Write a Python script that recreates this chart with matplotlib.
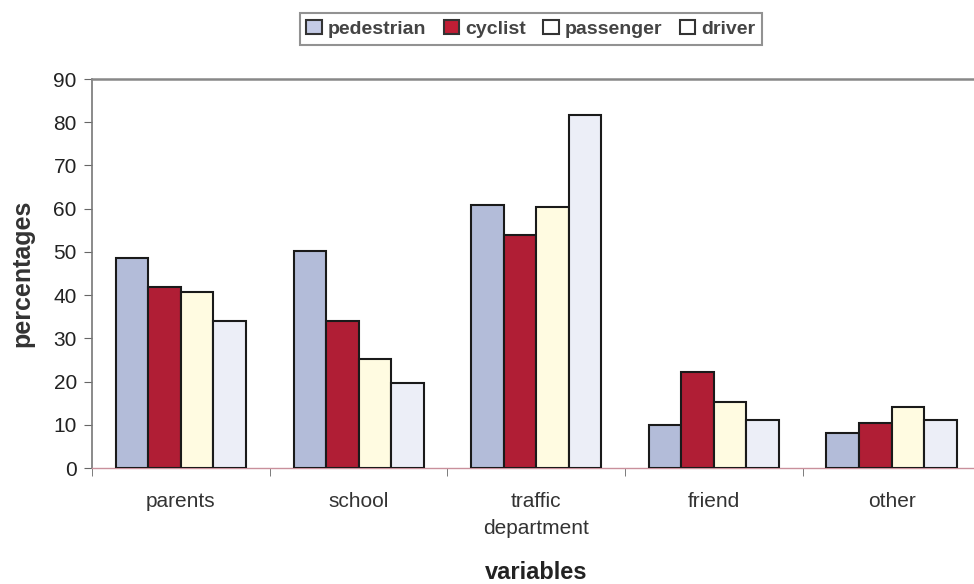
import matplotlib.pyplot as plt
import numpy as np
from matplotlib.patches import Patch

plt.rcParams['font.family'] = ['Liberation Sans', 'DejaVu Sans']

# datos
categorias = ["parents", "school", "traffic\ndepartment", "friend", "other"]
series = ["pedestrian", "cyclist", "passenger", "driver"]
pedestrian = [48.7, 50.1, 60.9, 9.9, 8.0]
cyclist = [41.9, 33.9, 53.8, 22.2, 10.5]
passenger = [40.7, 25.2, 60.5, 15.2, 14.2]
driver = [33.9, 19.7, 81.7, 11.1, 11.2]

valores = [pedestrian, cyclist, passenger, driver]
colores = ["#b3bcd9", "#b01e35", "#fffbe1", "#eceef7"]
colores_leyenda = ["#c4cbe6", "#c01e35", "#ffffff", "#ffffff"]

fig = plt.figure(figsize=(9.74, 5.84), dpi=100)
ax = fig.add_axes([0.0945, 0.1986, 0.912, 0.6661])

x = np.arange(len(categorias)) + 0.5
ancho = 0.183
for i, (vals, col) in enumerate(zip(valores, colores)):
    pos = x + (i - 1.5) * ancho
    ax.bar(pos, vals, width=ancho, color=col, edgecolor="#1a1a1a", linewidth=1.5,
           zorder=3)

ax.set_xlim(0, 5)
ax.set_ylim(0, 90)
ax.set_yticks(range(0, 91, 10))
ax.tick_params(axis="y", labelsize=15, length=6, color="#666666", pad=5,
               labelcolor="#222222")

ax.set_xticks(x)
ax.set_xticklabels(categorias, fontsize=15, color="#333333")
ax.tick_params(axis="x", length=0, pad=17)
ax.set_xticks(np.arange(0, 6), minor=True)
ax.tick_params(axis="x", which="minor", length=6, color="#666666")

for lab in ax.get_xticklabels():
    lab.set_linespacing(1.55)

ax.spines["right"].set_visible(False)
ax.spines["left"].set_color("#777777")
ax.spines["left"].set_linewidth(1.2)
ax.spines["top"].set_color("#888888")
ax.spines["top"].set_linewidth(1.8)
ax.spines["bottom"].set_color("#c9909c")
ax.spines["bottom"].set_linewidth(1.0)

ax.set_ylabel("percentages", fontsize=18, fontweight="bold", color="#333333",
              labelpad=14)

# etiqueta del eje x debajo de "department"
ax.text(0.5, -0.268, "variables", transform=ax.transAxes, ha="center",
        va="center", fontsize=17, fontweight="bold", color="#222222")

handles = [Patch(facecolor=c, edgecolor="#333333", linewidth=1.5)
           for c in colores_leyenda]
leg = fig.legend(handles, series, loc="center", bbox_to_anchor=(0.545, 0.951),
                 ncol=4, fontsize=14, frameon=True, fancybox=False,
                 handlelength=0.8, handleheight=0.8, handletextpad=0.3,
                 columnspacing=0.9, borderpad=0.35)
leg.get_frame().set_edgecolor("#777777")
leg.get_frame().set_linewidth(1.5)
for t in leg.get_texts():
    t.set_color("#444444")
    t.set_fontweight("bold")

fig.savefig("out.png", dpi=100)
